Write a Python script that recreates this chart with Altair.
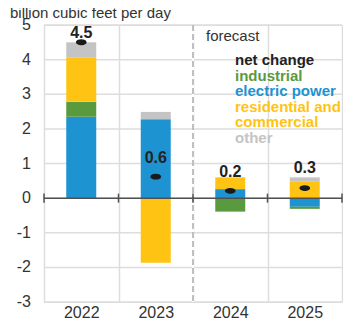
import altair as alt
import pandas as pd

years = ["2022", "2023", "2024", "2025"]
electric = [2.35, 2.28, 0.26, -0.25]
industrial = [0.43, 0.0, -0.39, -0.06]
rescom = [1.29, -1.87, 0.34, 0.47]
other = [0.43, 0.21, 0.0, 0.13]
net = [4.5, 0.62, 0.21, 0.29]
net_labels = ["4.5", "0.6", "0.2", "0.3"]
label_y = [4.78, 1.16, 0.76, 0.87]
y_ticks = [-3, -2, -1, 0, 1, 2, 3, 4, 5]

series = ["electric power", "industrial", "residential and commercial", "other"]
series_vals = [electric, industrial, rescom, other]
colors = ["#1D93D1", "#5A9A3F", "#FFC413", "#C4C4C4"]

legend_labels = ["net change", "industrial", "electric power", "residential and", "commercial", "other"]
legend_colors = ["#222222", "#5A9A3F", "#1D93D1", "#FFC413", "#FFC413", "#C4C4C4"]

FONT = "Liberation Sans"

rows = []
for si, (s, vals) in enumerate(zip(series, series_vals)):
    for y, v in zip(years, vals):
        rows.append({"year": y, "series": s, "value": v, "ord": si})
bars_df = pd.DataFrame(rows)
net_df = pd.DataFrame({"year": years, "net": net, "label": net_labels, "ly": label_y})
edge_df = pd.DataFrame({"year": years})
tick_df = pd.DataFrame({"v": y_ticks, "t": [str(v) for v in y_ticks]})
leg_df = pd.DataFrame({"label": legend_labels, "color": legend_colors,
                       "row": list(range(len(legend_labels)))})

xscale = alt.Scale(domain=years, paddingInner=0, paddingOuter=0)
yscale = alt.Scale(domain=[-3, 5], nice=False, zero=False)

xaxis = alt.Axis(title=None, grid=True, tickBand="extent", ticks=False, domain=False,
                 labelAngle=0, labelFontSize=16, labelColor="#333333", labelFont=FONT,
                 labelPadding=2, gridColor="#DDDDDD", gridWidth=1.5)
yaxis = alt.Axis(title=None, labels=False, grid=False, ticks=False, domain=False)

def X(**kw):
    return alt.X("year:N", sort=years, scale=xscale, axis=xaxis, **kw)

def Y(field, **kw):
    return alt.Y(field, scale=yscale, axis=yaxis, **kw)

bars = alt.Chart(bars_df).mark_bar(width=30).encode(
    x=X(),
    y=Y("value:Q", stack="zero"),
    color=alt.Color("series:N", scale=alt.Scale(domain=series, range=colors), legend=None),
    order=alt.Order("ord:Q"),
)

ygrid = alt.Chart(tick_df).mark_rule(color="#DDDDDD", strokeWidth=1.5).encode(
    y=Y("v:Q")
)
ylabels = alt.Chart(tick_df).mark_text(
    font=FONT, fontSize=16, color="#333333", align="right", baseline="middle"
).encode(x=alt.value(-13), y=Y("v:Q"), text="t:N")

dash_white = alt.Chart(pd.DataFrame({"year": ["2024"]})).mark_rule(color="white", strokeWidth=2).encode(
    x=X(bandPosition=0),
)
dash = alt.Chart(pd.DataFrame({"year": ["2024"]})).mark_rule(color="#AAAAAA", strokeWidth=1.5, strokeDash=[6, 3]).encode(
    x=X(bandPosition=0),
)

zero = alt.Chart(pd.DataFrame({"z": [0]})).mark_rule(color="#505050", strokeWidth=1.5).encode(
    y=Y("z:Q")
)
ticks0 = alt.Chart(edge_df).mark_rule(color="#505050", strokeWidth=1.5).encode(
    x=X(bandPosition=0),
    y=alt.datum(-0.13), y2=alt.datum(0.13),
)
ticks1 = alt.Chart(pd.DataFrame({"year": ["2025"]})).mark_rule(color="#505050", strokeWidth=1.5).encode(
    x=X(bandPosition=1),
    y=alt.datum(-0.13), y2=alt.datum(0.13),
)

ellipse = "M -1 0 A 1 0.55 0 1 0 1 0 A 1 0.55 0 1 0 -1 0 Z"
dots = alt.Chart(net_df).mark_point(shape=ellipse, filled=True, color="#1A1A1A", size=115, opacity=1).encode(
    x=X(), y=Y("net:Q"),
)
labels = alt.Chart(net_df).mark_text(font=FONT, fontSize=16, fontWeight="bold", color="#222222").encode(
    x=X(), y=Y("ly:Q"), text="label:N",
)

legend = alt.Chart(leg_df).transform_calculate(
    py="35 + datum.row * 15.6"
).mark_text(font=FONT, fontSize=15, fontWeight="bold", align="left", baseline="middle").encode(
    x=alt.value(191), y=alt.Y("py:Q", scale=None), text="label:N",
    color=alt.Color("color:N", scale=None),
)
forecast = alt.Chart(pd.DataFrame({"t": ["forecast"]})).mark_text(
    font=FONT, fontSize=15, align="left", baseline="middle", color="#333333"
).encode(x=alt.value(162), y=alt.value(11), text="t:N")

title = alt.Chart(pd.DataFrame({"t": ["billion cubic feet per day"]})).mark_text(
    font=FONT, fontSize=15, align="left", baseline="alphabetic", color="#333333"
).encode(x=alt.value(-34), y=alt.value(-7), text="t:N")

chart = alt.layer(
    bars.mark_bar(width=30, opacity=0), ygrid, ylabels, bars, dash_white, dash, zero, ticks0, ticks1,
    dots, labels, legend, forecast, title
).properties(
    width=298, height=277,
    autosize=alt.AutoSizeParams(type="none"),
    padding={"left": 36, "top": 17, "right": 1, "bottom": 19},
).configure_view(stroke=None).configure(background="white")

chart.save("out.html", embed_options={"renderer": "svg", "actions": False})
